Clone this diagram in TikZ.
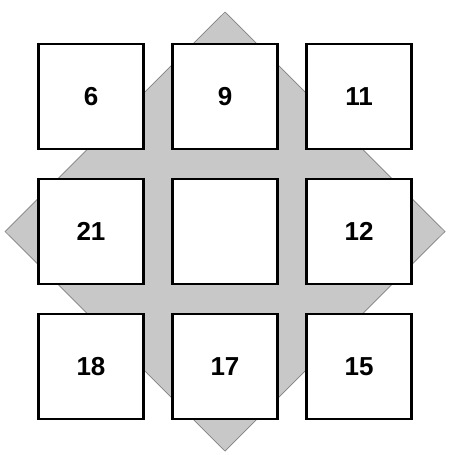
\documentclass[tikz,border=0pt]{standalone}
\usepackage{fontspec}
\setmainfont{Liberation Sans}
\definecolor{boardgrey}{HTML}{C8C8C8}
\definecolor{edgegrey}{HTML}{808080}
\tikzset{
  cell/.style={draw, line width=2.2pt, fill=white, minimum size=105pt, inner sep=0pt,
    font=\fontsize{26}{30}\selectfont\bfseries}
}

\begin{document}
\begin{tikzpicture}[x=1pt, y=-1pt]
            \useasboundingbox (0,0) rectangle (449,455);

            \coordinate (top) at (225,12);
            \coordinate (right) at (445,231.5);
            \coordinate (bottom) at (225,451);
            \coordinate (left) at (5,231.5);
            \draw[edgegrey, fill=boardgrey, line width=0.7pt] (top) -- (right) -- (bottom) -- (left) -- cycle;

            \node[cell] (c6) at (91,96.5) {6};
            \node[cell] (c9) at (225,96.5) {9};
            \node[cell] (c11) at (359,96.5) {11};
            \node[cell] (c21) at (91,231.5) {21};
            \node[cell] (cmid) at (225,231.5) {};
            \node[cell] (c12) at (359,231.5) {12};
            \node[cell] (c18) at (91,366.5) {18};
            \node[cell] (c17) at (225,366.5) {17};
            \node[cell] (c15) at (359,366.5) {15};
        \end{tikzpicture}
\end{document}
